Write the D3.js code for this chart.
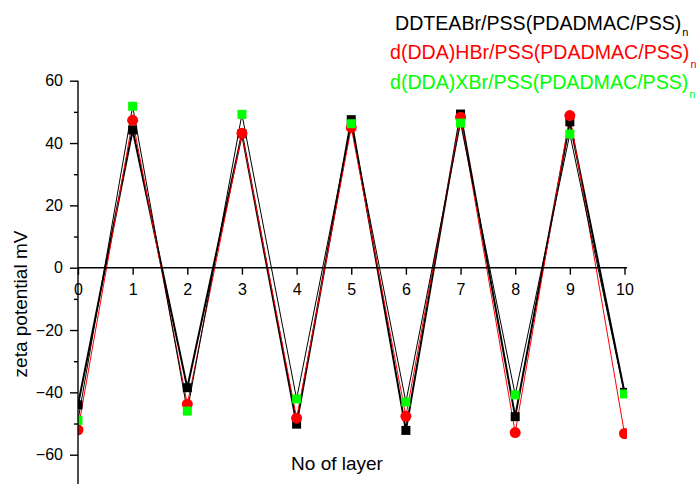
<!DOCTYPE html>
<html>
<head>
<meta charset="utf-8">
<script src="https://cdn.jsdelivr.net/npm/d3@7"></script>
<style>
  html, body { margin: 0; padding: 0; background: #fff; }
  svg { display: block; font-family: "Liberation Sans", Arial, sans-serif; }
</style>
</head>
<body>
<svg id="chart" width="699" height="484"></svg>
<script>
// Layer number along the x axis
const layers = [0, 1, 2, 3, 4, 5, 6, 7, 8, 9, 10];

// Zeta potential (mV) after each deposited layer
const ddteabr = [-44, 44.2, -38.5, 43, -50.2, 47.5, -52.2, 49.3, -47.8, 46.8, -40];
const ddaHbr  = [-52, 47.3, -43.8, 43.1, -48.3, 45, -47.7, 48.3, -52.9, 48.8, -53.2];
const ddaXbr  = [-49, 51.8, -46, 49.2, -42.1, 46.2, -43.1, 46.4, -40.8, 42.9, -40.5];

// Axis ticks
const yMajorTicks = [-60, -40, -20, 0, 20, 40, 60];
const yMinorTicks = [-50, -30, -10, 10, 30, 50];
const xTicks = [0, 1, 2, 3, 4, 5, 6, 7, 8, 9, 10];

// Series names
const seriesNames = [
  "DDTEABr/PSS(PDADMAC/PSS)",
  "d(DDA)HBr/PSS(PDADMAC/PSS)",
  "d(DDA)XBr/PSS(PDADMAC/PSS)"
];

const svg = d3.select("#chart");
const W = 699, H = 484;

const x = d3.scaleLinear().domain([0, 10]).range([78, 624.5]);
const y = d3.scaleLinear().domain([0, 60]).range([267.7, 80.7]);
const plotRight = 627;

const series = [
  { name: seriesNames[0], values: ddteabr, color: "#000000", line: "#000000", lineWidth: 2, shape: "square" },
  { name: seriesNames[1], values: ddaHbr,  color: "#ff0000", line: "#ff0000", lineWidth: 1, shape: "circle" },
  { name: seriesNames[2], values: ddaXbr,  color: "#00ff00", line: "#000000", lineWidth: 1, shape: "square" }
];

// Clip marks to the plotting region
svg.append("defs").append("clipPath").attr("id", "plot-clip")
  .append("rect")
  .attr("x", x(0)).attr("y", 0)
  .attr("width", plotRight - x(0)).attr("height", H);

const plot = svg.append("g").attr("clip-path", "url(#plot-clip)");

const line = d3.line().x((d, i) => x(layers[i])).y(d => y(d));

// Connecting lines
series.forEach(s => {
  plot.append("path")
    .datum(s.values)
    .attr("d", line)
    .attr("fill", "none")
    .attr("stroke", s.line)
    .attr("stroke-width", s.lineWidth)
    .attr("stroke-linejoin", "miter");
});

// Markers
const sq = 9, rad = 5.5;
series.forEach(s => {
  const g = plot.append("g");
  if (s.shape === "square") {
    g.selectAll("rect").data(s.values).join("rect")
      .attr("x", (d, i) => x(layers[i]) - sq / 2)
      .attr("y", d => y(d) - sq / 2)
      .attr("width", sq).attr("height", sq)
      .attr("fill", s.color);
  } else {
    g.selectAll("circle").data(s.values).join("circle")
      .attr("cx", (d, i) => x(layers[i]))
      .attr("cy", d => y(d))
      .attr("r", rad)
      .attr("fill", s.color);
  }
});

// Y axis
const yAxisG = svg.append("g").attr("transform", `translate(${x(0)},0)`);
yAxisG.call(d3.axisLeft(y).tickValues(yMajorTicks).tickSize(8).tickPadding(7).tickFormat(d3.format("d")));
yAxisG.append("g").call(d3.axisLeft(y).tickValues(yMinorTicks).tickSize(4).tickFormat(""));
yAxisG.selectAll(".domain").remove();
yAxisG.append("line")
  .attr("x1", 0).attr("x2", 0)
  .attr("y1", y(60)).attr("y2", H)
  .attr("stroke", "#000").attr("stroke-width", 1.4);

// X axis along zero
const xAxisG = svg.append("g").attr("transform", `translate(0,${y(0)})`);
xAxisG.call(d3.axisBottom(x).tickValues(xTicks).tickSize(7).tickPadding(9).tickFormat(d3.format("d")));
xAxisG.selectAll(".domain").remove();
xAxisG.append("line")
  .attr("x1", x(0)).attr("x2", plotRight)
  .attr("y1", 0).attr("y2", 0)
  .attr("stroke", "#000").attr("stroke-width", 1.4);

svg.selectAll(".tick line").attr("stroke", "#000").attr("stroke-width", 1.4);
svg.selectAll(".tick text")
  .attr("fill", "#000")
  .style("font-family", "'Liberation Sans', Arial, sans-serif")
  .style("font-size", "16px");

// Axis titles
svg.append("text")
  .attr("transform", `translate(27,304) rotate(-90)`)
  .attr("text-anchor", "middle")
  .style("font-size", "19px")
  .attr("fill", "#000")
  .text("zeta potential mV");

svg.append("text")
  .attr("x", 337).attr("y", 470)
  .attr("text-anchor", "middle")
  .style("font-size", "19px")
  .attr("fill", "#000")
  .text("No of layer");

// Legend
const legendPos = [
  { x: 395, y: 30 },
  { x: 390, y: 59 },
  { x: 390, y: 89 }
];
series.forEach((s, i) => {
  const t = svg.append("text")
    .attr("x", legendPos[i].x).attr("y", legendPos[i].y)
    .style("font-size", "19.6px")
    .attr("fill", s.color);
  t.append("tspan").text(s.name);
  t.append("tspan")
    .attr("dy", i === 0 ? 6 : 9)
    .attr("dx", 1)
    .style("font-size", "11px")
    .text("n");
});
</script>
</body>
</html>
